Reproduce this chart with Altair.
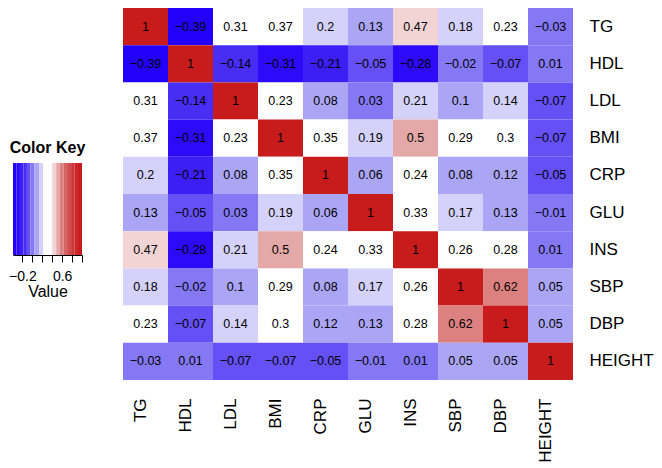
import altair as alt
import pandas as pd

variables = ["TG", "HDL", "LDL", "BMI", "CRP", "GLU", "INS", "SBP", "DBP", "HEIGHT"]

r_TG = [1, -0.39, 0.31, 0.37, 0.2, 0.13, 0.47, 0.18, 0.23, -0.03]
r_HDL = [-0.39, 1, -0.14, -0.31, -0.21, -0.05, -0.28, -0.02, -0.07, 0.01]
r_LDL = [0.31, -0.14, 1, 0.23, 0.08, 0.03, 0.21, 0.1, 0.14, -0.07]
r_BMI = [0.37, -0.31, 0.23, 1, 0.35, 0.19, 0.5, 0.29, 0.3, -0.07]
r_CRP = [0.2, -0.21, 0.08, 0.35, 1, 0.06, 0.24, 0.08, 0.12, -0.05]
r_GLU = [0.13, -0.05, 0.03, 0.19, 0.06, 1, 0.33, 0.17, 0.13, -0.01]
r_INS = [0.47, -0.28, 0.21, 0.5, 0.24, 0.33, 1, 0.26, 0.28, 0.01]
r_SBP = [0.18, -0.02, 0.1, 0.29, 0.08, 0.17, 0.26, 1, 0.62, 0.05]
r_DBP = [0.23, -0.07, 0.14, 0.3, 0.12, 0.13, 0.28, 0.62, 1, 0.05]
r_HEIGHT = [-0.03, 0.01, -0.07, -0.07, -0.05, -0.01, 0.01, 0.05, 0.05, 1]
matrix = [r_TG, r_HDL, r_LDL, r_BMI, r_CRP, r_GLU, r_INS, r_SBP, r_DBP, r_HEIGHT]

# colour key breaks (binned palette) and colours
key_min, key_max = -0.39, 1.0
breaks = [-0.32, -0.25, -0.18, -0.11, -0.04, 0.04, 0.135, 0.22, 0.30, 0.40,
          0.48, 0.55, 0.63, 0.70, 0.78, 0.85, 0.92]
palette = ["#2300FA", "#2D0AF8", "#3C1EF6", "#482DF5", "#6450F5", "#8478F5",
           "#AAA5F5", "#D4D2FA", "#FFFFFF", "#FFFFFF", "#F2D4D4", "#E4A8A8",
           "#DC8080", "#D66464", "#D04B4B", "#CD3737", "#CA2828", "#C81C1C"]
key_ticks = [-0.2, 0, 0.2, 0.4, 0.6, 0.8, 1.0]

rows = []
for i, rname in enumerate(variables):
    for j, cname in enumerate(variables):
        v = matrix[i][j]
        rows.append({"row": rname, "col": cname, "value": v,
                     "label": f"{v:g}".replace("-", "\u2212")})
df = pd.DataFrame(rows)

edges = [key_min] + breaks + [key_max]
key_df = pd.DataFrame({"lo": edges[:-1], "hi": edges[1:]})
key_df["mid"] = (key_df["lo"] + key_df["hi"]) / 2

color_scale = alt.Scale(type="threshold", domain=breaks, range=palette)
no_view = alt.ViewConfig(stroke="transparent", strokeWidth=0)

base = alt.Chart(df).encode(
    x=alt.X("col:N", sort=variables,
            scale=alt.Scale(paddingInner=0, paddingOuter=0),
            axis=alt.Axis(orient="bottom", labelAngle=-90, labelAlign="right",
                          labelBaseline="alphabetic", labelPadding=18,
                          labelFontSize=17, labelColor="black",
                          domain=False, ticks=False, title=None)),
    y=alt.Y("row:N", sort=variables,
            scale=alt.Scale(paddingInner=0, paddingOuter=0),
            axis=alt.Axis(orient="right", labelPadding=16, labelFontSize=17,
                          labelColor="black", labelAlign="left",
                          labelBaseline="middle",
                          domain=False, ticks=False, title=None)),
)
cells = base.mark_rect().encode(
    color=alt.Color("value:Q", scale=color_scale, legend=None))
texts = base.mark_text(fontSize=12.5, color="black").encode(text="label:N")
heat = (cells + texts).properties(width=450, height=372, view=no_view)

key_rect = alt.Chart(key_df).mark_rect().encode(
    x=alt.X("lo:Q",
            scale=alt.Scale(domain=[key_min, key_max], nice=False, zero=False),
            axis=alt.Axis(values=key_ticks, format=".1f",
                          labelExpr="datum.value == -0.2 || datum.value == 0.6 ? datum.label : ''",
                          labelFontSize=14, labelColor="black", labelPadding=7,
                          tickSize=7, tickColor="black", domainColor="black",
                          grid=False, title="Value", titleFontSize=16,
                          titleFontWeight="normal", titleColor="black",
                          titlePadding=0)),
    x2="hi:Q",
    y=alt.value(155),
    y2=alt.value(247),
    color=alt.Color("mid:Q", scale=color_scale, legend=None),
)
key_title = alt.Chart(pd.DataFrame({"t": ["Color Key"]})).mark_text(
    fontSize=16, fontWeight="bold", align="center", baseline="middle",
    color="black").encode(text="t:N", x=alt.value(34.5), y=alt.value(140))
key = (key_rect + key_title).properties(width=69, height=247, view=no_view)

chart = alt.hconcat(key, heat, spacing=37).properties(
    padding={"left": 0, "top": 0, "right": 0, "bottom": 0}
).configure_view(stroke="transparent", strokeWidth=0).configure(font="Liberation Sans")

chart.save("out.html", embed_options={"renderer": "svg", "actions": False})
